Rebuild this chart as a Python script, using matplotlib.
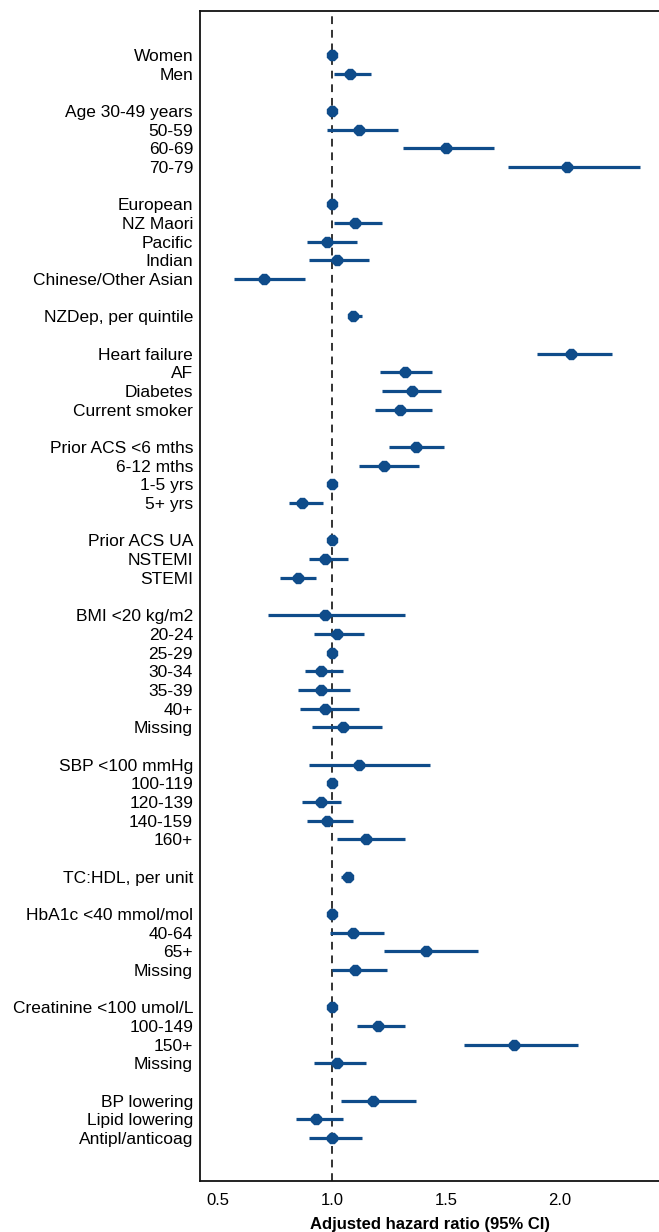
import numpy as np
import matplotlib.pyplot as plt

plt.rcParams['font.family'] = ['Liberation Sans', 'DejaVu Sans']

# rows, with None for the blank spacer rows between groups
labels = ['Women', 'Men', None,
          'Age 30-49 years', '50-59', '60-69', '70-79', None,
          'European', 'NZ Maori', 'Pacific', 'Indian', 'Chinese/Other Asian', None,
          'NZDep, per quintile', None,
          'Heart failure', 'AF', 'Diabetes', 'Current smoker', None,
          'Prior ACS <6 mths', '6-12 mths', '1-5 yrs', '5+ yrs', None,
          'Prior ACS UA', 'NSTEMI', 'STEMI', None,
          'BMI <20 kg/m2', '20-24', '25-29', '30-34', '35-39', '40+', 'Missing', None,
          'SBP <100 mmHg', '100-119', '120-139', '140-159', '160+', None,
          'TC:HDL, per unit', None,
          'HbA1c <40 mmol/mol', '40-64', '65+', 'Missing', None,
          'Creatinine <100 umol/L', '100-149', '150+', 'Missing', None,
          'BP lowering', 'Lipid lowering', 'Antipl/anticoag']

hr = [1.00, 1.08, None,
      1.00, 1.12, 1.50, 2.03, None,
      1.00, 1.10, 0.98, 1.02, 0.70, None,
      1.09, None,
      2.05, 1.32, 1.35, 1.30, None,
      1.37, 1.23, 1.00, 0.87, None,
      1.00, 0.97, 0.85, None,
      0.97, 1.02, 1.00, 0.95, 0.95, 0.97, 1.05, None,
      1.12, 1.00, 0.95, 0.98, 1.15, None,
      1.07, None,
      1.00, 1.09, 1.41, 1.10, None,
      1.00, 1.20, 1.80, 1.02, None,
      1.18, 0.93, 1.00]

lo = [None, 1.01, None,
      None, 0.98, 1.31, 1.77, None,
      None, 1.01, 0.89, 0.90, 0.57, None,
      1.07, None,
      1.90, 1.21, 1.22, 1.19, None,
      1.25, 1.12, None, 0.81, None,
      None, 0.90, 0.77, None,
      0.72, 0.92, None, 0.88, 0.85, 0.86, 0.91, None,
      0.90, None, 0.87, 0.89, 1.02, None,
      1.04, None,
      None, 0.99, 1.23, 1.00, None,
      None, 1.11, 1.58, 0.92, None,
      1.04, 0.84, 0.90]

hi = [None, 1.17, None,
      None, 1.29, 1.71, 2.35, None,
      None, 1.22, 1.11, 1.16, 0.88, None,
      1.13, None,
      2.23, 1.44, 1.48, 1.44, None,
      1.49, 1.38, None, 0.96, None,
      None, 1.07, 0.93, None,
      1.32, 1.14, None, 1.05, 1.08, 1.12, 1.22, None,
      1.43, None, 1.04, 1.09, 1.32, None,
      1.09, None,
      None, 1.23, 1.64, 1.24, None,
      None, 1.32, 2.08, 1.15, None,
      1.37, 1.05, 1.13]

xticks = [0.5, 1.0, 1.5, 2.0]
color = '#0f4c8a'

fig = plt.figure(figsize=(6.59, 12.32), dpi=100)
ax = fig.add_axes([0.3035, 0.0414, 0.6965, 0.9496])

ypos = np.arange(len(labels))
rows = [i for i, l in enumerate(labels) if l is not None]

ax.axvline(1.0, color='#333333', lw=1.4, ls=(0, (4, 3)), zorder=1)

for i in rows:
    if lo[i] is not None:
        ax.plot([lo[i], hi[i]], [ypos[i], ypos[i]], color=color, lw=2.3,
                solid_capstyle='butt', zorder=2)
    ax.plot(hr[i], ypos[i], marker='8', ms=8, color=color, mec=color, zorder=3)

ax.set_yticks([ypos[i] for i in rows])
ax.set_yticklabels([labels[i] for i in rows], fontsize=12.5)
ax.set_ylim(len(labels) - 1 + 2.3, -2.35)
ax.set_xlim(0.421, 2.434)
ax.set_xticks(xticks)
ax.set_xticklabels([f'{t:.1f}' for t in xticks], fontsize=12)
ax.tick_params(axis='both', length=0)
ax.tick_params(axis='x', pad=9)
ax.tick_params(axis='y', pad=5)

for s in ['left', 'bottom', 'top']:
    ax.spines[s].set_linewidth(1.3)
    ax.spines[s].set_color('#111111')
ax.spines['right'].set_visible(False)

ax.set_xlabel('Adjusted hazard ratio (95% CI)', fontsize=12, fontweight='bold', labelpad=6)

plt.savefig('out.png', dpi=100, facecolor='w')
